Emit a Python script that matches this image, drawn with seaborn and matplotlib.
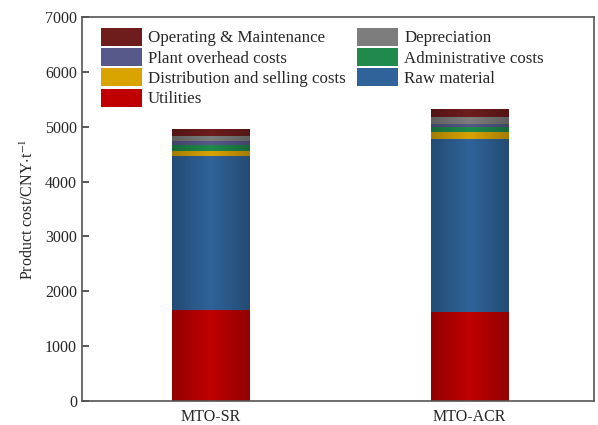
import numpy as np
import pandas as pd
import matplotlib
matplotlib.use("Agg")
import matplotlib.pyplot as plt
import seaborn as sns
from matplotlib.colors import to_rgb

processes = ["MTO-SR", "MTO-ACR"]

# cost components, stacked from bottom to top
utilities = [1660, 1615]
raw_material = [2810, 3170]
distribution_selling = [90, 115]
administrative = [105, 95]
plant_overhead = [80, 60]
depreciation = [80, 120]
operating_maintenance = [130, 145]

components = [
    ("Utilities", utilities, "#c00000"),
    ("Raw material", raw_material, "#2f6399"),
    ("Distribution and selling costs", distribution_selling, "#d9a400"),
    ("Administrative costs", administrative, "#1f8a4c"),
    ("Plant overhead costs", plant_overhead, "#56598a"),
    ("Depreciation", depreciation, "#7d7d7d"),
    ("Operating & Maintenance", operating_maintenance, "#6e1c1c"),
]

sns.set_theme(style="ticks")
plt.rcParams["font.family"] = ["Liberation Serif", "DejaVu Serif"]
plt.rcParams["mathtext.fontset"] = "stix"

fig = plt.figure(figsize=(5.98, 4.25), dpi=100)
ax = fig.add_axes([0.137, 0.0565, 0.856, 0.9035])

bottom = np.zeros(len(processes))
patch_groups = []
for name, vals, color in components:
    df = pd.DataFrame({"process": processes, "cost": vals})
    n_before = len(ax.patches)
    sns.barplot(data=df, x="process", y="cost", color=color, width=0.30,
                bottom=bottom, ax=ax, label=name, saturation=1,
                edgecolor="none", linewidth=0)
    patch_groups.append((name, color, ax.patches[n_before:]))
    bottom = bottom + np.array(vals)

# cylinder-like shading across each bar segment
shade = np.concatenate([np.linspace(0.6, 1.0, 50), np.linspace(1.0, 0.6, 50)])
for name, color, patches in patch_groups:
    rgb = np.array(to_rgb(color))
    img = shade[:, None] * rgb[None, :] + (1 - shade[:, None]) * rgb[None, :] * 0.4
    img = np.clip(img, 0, 1)[None, :, :]
    for p in patches:
        x0, y0 = p.get_x(), p.get_y()
        w, h = p.get_width(), p.get_height()
        im = ax.imshow(img, extent=(x0, x0 + w, y0, y0 + h), aspect="auto",
                       zorder=p.get_zorder() + 0.1, interpolation="bilinear")
        im.set_clip_path(p)

ax.set_xlim(-0.5, 1.48)
ax.set_ylim(0, 7000)
ax.set_yticks(range(0, 7001, 1000))
ax.set_xlabel("")
ax.set_ylabel(r"Product cost/CNY$\cdot$t$^{-1}$", fontsize=11.5, labelpad=6)
ax.tick_params(axis="y", direction="in", length=5, labelsize=11.5, color="#444444")
ax.tick_params(axis="x", length=0, labelsize=11.5, pad=6)
for s in ax.spines.values():
    s.set_visible(True)
    s.set_color("#555555")
    s.set_linewidth(1.2)

# legend: two columns, filled column-wise
order = ["Operating & Maintenance", "Plant overhead costs",
         "Distribution and selling costs", "Utilities",
         "Depreciation", "Administrative costs", "Raw material"]
handles, labels = ax.get_legend_handles_labels()
lookup = dict(zip(labels, handles))
ax.legend([lookup[k] for k in order], order, ncol=2, loc="upper left",
          bbox_to_anchor=(0.008, 1.012), frameon=False, fontsize=12.2,
          handlelength=2.4, handleheight=1.25, handletextpad=0.35,
          labelspacing=0.1, columnspacing=0.7, borderaxespad=0.4,
          borderpad=0.5)

fig.savefig("out.png", dpi=100)
